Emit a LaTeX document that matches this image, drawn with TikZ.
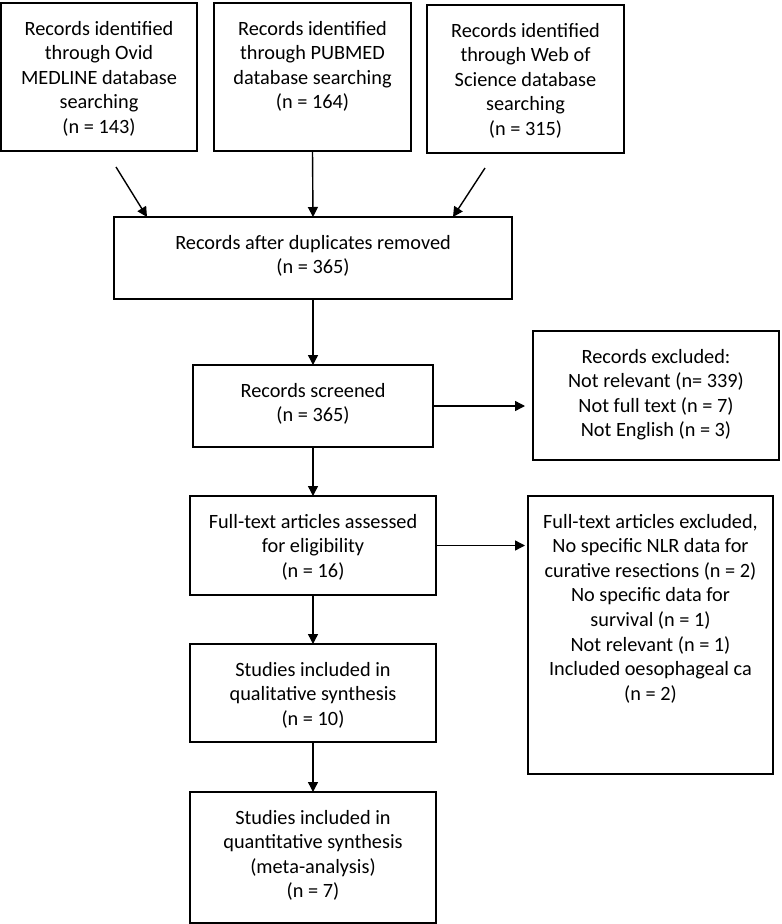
\documentclass[tikz,border=0pt]{standalone}
\usepackage{fontspec}
\setmainfont{Carlito}
\usetikzlibrary{arrows.meta}
\tikzset{
  boxst/.style={draw=black, line width=1.3pt, inner sep=0pt, outer sep=0pt, fill=white},
  arr/.style={line width=1.4pt, -{Triangle[length=10pt,width=10pt]}},
}
\newcommand\flowbox[6]{%
  \node[boxst, anchor=north west] (#1) at (#2,#3) {%
    \begin{minipage}[t][\dimexpr #5pt-#3pt\relax][t]{\dimexpr #4pt-#2pt\relax}%
      \centering\fontsize{20.3pt}{24.6pt}\selectfont\rule{0pt}{32pt}#6%
    \end{minipage}};}
\begin{document}
\begin{tikzpicture}[x=1pt,y=-1pt]
  \fill[white] (0,0) rectangle (782,924);
  \useasboundingbox (0,0) rectangle (782,924);

  \flowbox{b1}{1}{3}{197}{151}{Records identified\\through Ovid\\MEDLINE database\\searching\\(n = 143)}
  \flowbox{b2}{214}{3}{411}{151}{Records identified\\through PUBMED\\database searching\\(n = 164)}
  \flowbox{b3}{427}{5}{624}{153}{Records identified\\through Web of\\Science database\\searching\\(n = 315)}
  \flowbox{dup}{114}{217}{512}{299}{Records after duplicates removed\\(n = 365)}
  \flowbox{scr}{193}{365}{433}{447}{Records screened\\(n = 365)}
  \flowbox{exc1}{533}{331}{779}{460}{Records excluded:\\Not relevant (n= 339)\\Not full text (n = 7)\\Not English (n = 3)}
  \flowbox{full}{190}{496}{436}{595}{Full-text articles assessed\\for eligibility\\(n = 16)}
  \flowbox{exc2}{528}{496}{773}{774}{Full-text articles excluded,\\No specific NLR data for\\curative resections (n = 2)\\No specific data for\\survival (n = 1)\\Not relevant (n = 1)\\Included oesophageal ca\\(n = 2)}
  \flowbox{qual}{190}{644}{436}{742}{Studies included in\\qualitative synthesis\\(n = 10)}
  \flowbox{quant}{190}{792}{436}{923}{Studies included in\\quantitative synthesis\\(meta-analysis)\\(n = 7)}

  \coordinate (s1) at (116,167);
  \coordinate (e1) at (147,217);
  \coordinate (s3) at (485,168);
  \coordinate (e3) at (453,217);

  \draw[arr] (s1) -- (e1);
  \draw[arr] (b2.south) -- (dup.north);
  \draw[arr] (s3) -- (e3);
  \draw[arr] (dup.south) -- (scr.north);
  \draw[arr, shorten >=8pt] (scr.east) -- (scr.east -| exc1.west);
  \draw[arr] (scr.south) -- (full.north);
  \draw[arr, shorten >=3pt] (full.east) -- (full.east -| exc2.west);
  \draw[arr] (full.south) -- (qual.north);
  \draw[arr] (qual.south) -- (quant.north);
\end{tikzpicture}
\end{document}
